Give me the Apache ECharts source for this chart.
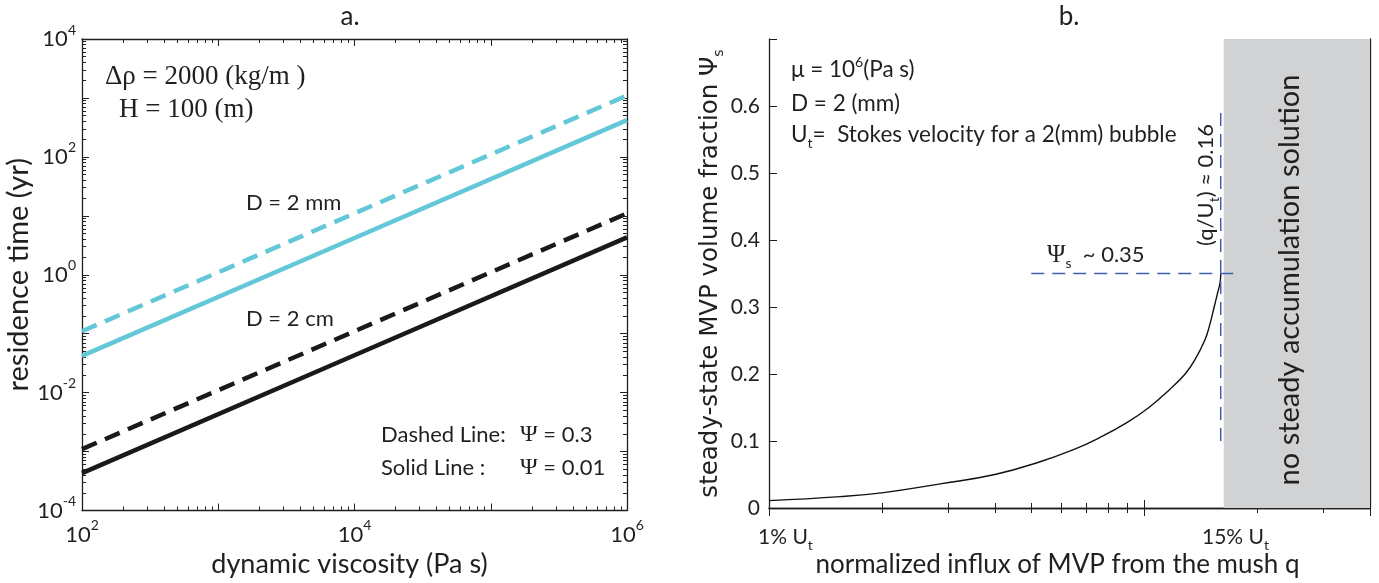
<!DOCTYPE html>
<html><head><meta charset="utf-8">
<script src="https://cdn.jsdelivr.net/npm/echarts@6/dist/echarts.min.js"></script>
<style>html,body{margin:0;padding:0;background:#fff}#c{width:1379px;height:583px}</style>
</head><body><div id="c"></div>
<script>
// ---- Panel a data: residence time (yr) vs dynamic viscosity (Pa s) ----
const viscosity   = [1e2, 1e4, 1e6];
const cyanDashed  = [0.11, 11, 1100];     // D = 2 mm, Psi = 0.3
const cyanSolid   = [0.042, 4.2, 420];    // D = 2 mm, Psi = 0.01
const blackDashed = [0.0011, 0.11, 11];   // D = 2 cm, Psi = 0.3
const blackSolid  = [0.00043, 0.043, 4.3];// D = 2 cm, Psi = 0.01

// ---- Panel b data: steady-state volume fraction vs normalized influx ----
const influxQ = [0.01, 0.0155, 0.0202, 0.0286, 0.040, 0.0528, 0.0648, 0.0755, 0.0897, 0.103, 0.117, 0.1286, 0.1365, 0.145, 0.149, 0.1537, 0.1568, 0.1597, 0.160];
const psiS    = [0.011, 0.017, 0.023, 0.036, 0.050, 0.069, 0.087, 0.104, 0.127, 0.150, 0.177, 0.200, 0.221, 0.250, 0.270, 0.300, 0.320, 0.340, 0.350];
const psiLevel = 0.35;
const psiLineQ = [0.05, 0.175];
const qCrit = 0.16;
const qCritPsi = [0.1, 0.6];
const noSolutionQ = [0.163, 0.4];
const xTickLabelsB = ['1% ', '15% '];

const TXT = '#231f20';
const FONT = 'Lato';
const CYAN = '#62c8d8';
const BLUE = '#3f5fae';

const chart = echarts.init(document.getElementById('c'), null, {renderer: 'canvas'});

function logLabel(v) {
  const e = Math.round(Math.log10(v));
  if (e % 2 !== 0) return '';
  return '{b|10}{s|' + e + '}';
}
const supRich = {
  b: {fontSize: 22, fontFamily: FONT, color: TXT, lineHeight: 32},
  s: {fontSize: 14, fontFamily: FONT, color: TXT, lineHeight: 14, verticalAlign: 'top'}
};
const axisLineStyle = {lineStyle: {color: TXT, width: 1.3}};

function logAxis(extra) {
  return Object.assign({
    type: 'log', logBase: 10,
    axisLine: axisLineStyle,
    axisTick: {show: true, inside: true, length: 7, lineStyle: {color: TXT, width: 1}},
    minorTick: {show: true, splitNumber: 9, length: 4, lineStyle: {color: TXT, width: 1}},
    splitLine: {show: false},
    minorSplitLine: {show: false}
  }, extra);
}

const option = {
  backgroundColor: '#fff',
  animation: false,
  textStyle: {fontFamily: FONT, color: TXT},
  grid: [
    {left: 82, top: 39, width: 545, height: 471.5},
    {left: 769, top: 39, width: 601, height: 470}
  ],
  xAxis: [
    logAxis({gridIndex: 0, min: 1e2, max: 1e6, splitNumber: 4, position: 'bottom',
      axisLabel: {formatter: logLabel, rich: supRich, margin: 8},
      name: 'dynamic viscosity (Pa s)', nameLocation: 'middle', nameGap: 38,
      nameTextStyle: {fontSize: 27, fontFamily: FONT, color: TXT, padding: [0, 10, 0, 0]}}),
    logAxis({gridIndex: 0, min: 1e2, max: 1e6, splitNumber: 4, position: 'top',
      axisLabel: {show: false}}),
    logAxis({gridIndex: 1, min: 0.01, max: 0.4, position: 'bottom',
      axisTick: {show: true, inside: true, length: 8, lineStyle: {color: TXT, width: 1}},
      minorTick: {show: true, splitNumber: 9, length: 5, lineStyle: {color: TXT, width: 1}},
      axisLabel: {show: false},
      name: 'normalized influx of MVP from the mush q', nameLocation: 'middle', nameGap: 44,
      nameTextStyle: {fontSize: 26, fontFamily: FONT, color: TXT, padding: [0, 24, 0, 0]}}),
    logAxis({gridIndex: 1, min: 0.01, max: 0.4, position: 'top',
      axisTick: {show: true, inside: true, length: 8, lineStyle: {color: TXT, width: 1}},
      minorTick: {show: true, splitNumber: 9, length: 5, lineStyle: {color: TXT, width: 1}},
      axisLabel: {show: false}})
  ],
  yAxis: [
    logAxis({gridIndex: 0, min: 1e-4, max: 1e4, splitNumber: 8, position: 'left',
      axisLabel: {formatter: logLabel, rich: supRich, margin: 6},
      name: 'residence time (yr)', nameLocation: 'middle', nameGap: 47,
      nameTextStyle: {fontSize: 29, fontFamily: FONT, color: TXT}}),
    logAxis({gridIndex: 0, min: 1e-4, max: 1e4, splitNumber: 8, position: 'right',
      axisLabel: {show: false}}),
    {type: 'value', gridIndex: 1, min: 0, max: 0.7, interval: 0.1, position: 'left',
      axisLine: axisLineStyle,
      axisTick: {show: true, inside: true, length: 8, lineStyle: {color: TXT}},
      splitLine: {show: false},
      axisLabel: {fontSize: 21, fontFamily: FONT, color: TXT, margin: 9,
        formatter: v => v > 0.65 ? '' : (Math.round(v * 10) / 10).toString()},
      name: '{n|steady-state MVP volume fraction Ψ}{sub|s}', nameLocation: 'middle', nameGap: 40,
      nameTextStyle: {rich: {
        n: {fontSize: 24.5, fontFamily: 'DejaVu Sans', color: TXT, lineHeight: 32},
        sub: {fontSize: 14, fontFamily: 'DejaVu Sans', color: TXT, lineHeight: 14, verticalAlign: 'bottom'}
      }}},
    {type: 'value', gridIndex: 1, min: 0, max: 0.7, interval: 0.1, position: 'right',
      axisLine: axisLineStyle,
      axisTick: {show: true, inside: true, length: 8, lineStyle: {color: TXT}},
      splitLine: {show: false}, axisLabel: {show: false}}
  ],
  series: [
    {type: 'line', xAxisIndex: 0, yAxisIndex: 0, showSymbol: false, z: 3,
      data: viscosity.map((x, i) => [x, cyanDashed[i]]),
      lineStyle: {color: CYAN, width: 4.5, type: [16, 9]}},
    {type: 'line', xAxisIndex: 0, yAxisIndex: 0, showSymbol: false, z: 3,
      data: viscosity.map((x, i) => [x, cyanSolid[i]]),
      lineStyle: {color: CYAN, width: 4.5}},
    {type: 'line', xAxisIndex: 0, yAxisIndex: 0, showSymbol: false, z: 3,
      data: viscosity.map((x, i) => [x, blackDashed[i]]),
      lineStyle: {color: '#1a1a1a', width: 4.5, type: [16, 9]}},
    {type: 'line', xAxisIndex: 0, yAxisIndex: 0, showSymbol: false, z: 3,
      data: viscosity.map((x, i) => [x, blackSolid[i]]),
      lineStyle: {color: '#1a1a1a', width: 4.5}},
    {type: 'line', xAxisIndex: 2, yAxisIndex: 2, showSymbol: false, z: 3, smooth: 0.45,
      data: influxQ.map((q, i) => [q, psiS[i]]),
      lineStyle: {color: '#111', width: 1.4},
      markArea: {silent: true, itemStyle: {color: '#d1d2d4'}, z: 1,
        data: [[{xAxis: noSolutionQ[0]}, {xAxis: noSolutionQ[1]}]]}},
    {type: 'line', xAxisIndex: 2, yAxisIndex: 2, showSymbol: false, z: 5,
      data: psiLineQ.map(q => [q, psiLevel]),
      lineStyle: {color: BLUE, width: 1.5, type: [13, 8]}},
    {type: 'line', xAxisIndex: 2, yAxisIndex: 2, showSymbol: false, z: 5,
      data: qCritPsi.map(p => [qCrit, p]),
      lineStyle: {color: BLUE, width: 1.5, type: [13, 8]}}
  ]
};

chart.setOption(option);

// ---- annotations ----
function txt(x, y, text, rich, opts) {
  return Object.assign({
    type: 'text', x: x, y: y, silent: true, z: 50,
    style: Object.assign({text: text, rich: rich, textVerticalAlign: 'middle', textAlign: 'left',
      fontFamily: FONT, fontSize: 21, fill: TXT}, opts && opts.style)
  }, opts && opts.el);
}
const r22 = {
  n: {fontSize: 22.5, fontFamily: FONT, color: TXT, lineHeight: 30},
  sup: {fontSize: 14, fontFamily: FONT, color: TXT, lineHeight: 14, verticalAlign: 'top'},
  sub: {fontSize: 14, fontFamily: FONT, color: TXT, lineHeight: 14, verticalAlign: 'bottom'}
};
const psiRich = {fontSize: 24, fontFamily: 'Liberation Serif', color: TXT, lineHeight: 30};
const rBlue = {
  n: {fontSize: 22, fontFamily: FONT, color: BLUE, lineHeight: 30},
  sub: {fontSize: 14, fontFamily: FONT, color: BLUE, lineHeight: 14, verticalAlign: 'bottom'},
  psi: {fontSize: 25, fontFamily: 'Liberation Serif', color: BLUE, lineHeight: 30}
};
const serif = {fontFamily: 'Liberation Serif', fontSize: 27};
const rLab = {
  n: {fontSize: 21, fontFamily: FONT, color: TXT, lineHeight: 30},
  sub: {fontSize: 14, fontFamily: FONT, color: TXT, lineHeight: 14, verticalAlign: 'bottom'}
};
const n22 = {fontSize: 22, fontFamily: FONT, color: TXT, lineHeight: 30};

const graphics = [
  txt(350, 17, 'a.', null, {style: {textAlign: 'center', fontSize: 26}}),
  txt(1069, 17, 'b.', null, {style: {textAlign: 'center', fontSize: 26}}),
  txt(105, 77, 'Δρ = 2000 (kg/m )', null, {style: serif}),
  txt(119, 110, 'H = 100 (m)', null, {style: serif}),
  txt(246, 203, 'D = 2 mm', null, {style: {fontSize: 22}}),
  txt(246, 319, 'D = 2 cm', null, {style: {fontSize: 22}}),
  txt(381, 435, 'Dashed Line:', null, {style: {fontSize: 22}}),
  txt(381, 468, 'Solid Line :', null, {style: {fontSize: 22}}),
  txt(520, 435, '{psi|Ψ}{n| = 0.3}', {psi: psiRich, n: n22}),
  txt(520, 468, '{psi|Ψ}{n| = 0.01}', {psi: psiRich, n: n22}),
  txt(791, 70, '{n|μ = 10}{sup|6}{n|(Pa s)}', r22),
  txt(791, 104, '{n|D = 2 (mm)}', r22),
  txt(791, 135, '{n|U}{sub|t}{n|=  Stokes velocity for a 2(mm) bubble}', r22),
  txt(1047, 255, '{psi|Ψ}{sub|s}{n|  ~ 0.35}', rBlue),
  txt(1206, 185, '{n|(q/U}{sub|t}{n|) ≈ 0.16}', rBlue,
      {style: {textAlign: 'center'}, el: {rotation: Math.PI / 2}}),
  txt(1290, 280, 'no steady accumulation solution', null,
      {style: {textAlign: 'center', fontSize: 29}, el: {rotation: Math.PI / 2}}),
  txt(758, 537, '{n|' + xTickLabelsB[0] + 'U}{sub|t}', rLab),
  txt(1202, 537, '{n|' + xTickLabelsB[1] + 'U}{sub|t}', rLab)
];
chart.setOption({graphic: graphics});
</script></body></html>
